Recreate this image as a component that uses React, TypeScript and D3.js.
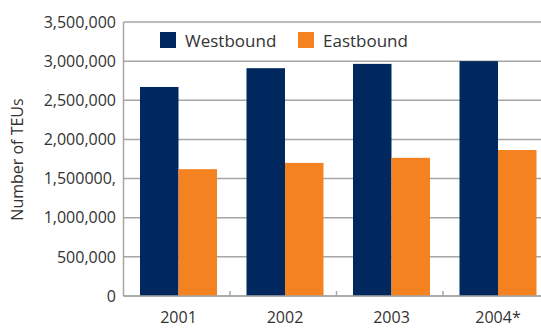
import React from "react";
import * as d3 from "d3";

const years = ["2001", "2002", "2003", "2004*"];
const westbound = [2670000, 2910000, 2965000, 3000000];
const eastbound = [1620000, 1700000, 1765000, 1865000];
const seriesNames = ["Westbound", "Eastbound"];
const seriesColors = ["#00285e", "#f58220"];
const yTicks = [0, 500000, 1000000, 1500000, 2000000, 2500000, 3000000, 3500000];
const yTickLabels = ["0", "500,000", "1,000,000", "1,500000,", "2,000,000", "2,500,000", "3,000,000", "3,500,000"];

const W = 541;
const H = 328;
const left = 123.5;
const top = 22;
const bottom = 296;
const right = 549.5;
const font = "'Open Sans', sans-serif";
const textColor = "#333";

export default function App() {
  const x = d3.scaleBand<string>().domain(years).range([left, right]).padding(0);
  const inner = d3.scaleBand<string>().domain(seriesNames).range([16.5, 93.5]).padding(0);
  const y = d3.scaleLinear().domain([0, 3500000]).range([bottom, top]);
  const values = [westbound, eastbound];

  return (
    <svg width={W} height={H} style={{ position: "absolute", left: 0, top: 0, background: "#fff" }}>
      {/* horizontal gridlines */}
      {yTicks.map((t) => (
        <line key={t} x1={left} x2={W} y1={y(t)} y2={y(t)} stroke="#a6a6a6" strokeWidth={1.5} />
      ))}
      {/* y tick labels */}
      {yTicks.map((t, i) => (
        <text key={"l" + t} x={116} y={y(t)} dy="0.36em" textAnchor="end" fontFamily={font} fontSize={16} fill={textColor}>
          {yTickLabels[i]}
        </text>
      ))}
      {/* bars */}
      {years.map((yr, i) =>
        seriesNames.map((s, j) => (
          <rect
            key={yr + s}
            x={(x(yr) as number) + (inner(s) as number)}
            y={y(values[j][i])}
            width={inner.bandwidth()}
            height={bottom - y(values[j][i])}
            fill={seriesColors[j]}
          />
        ))
      )}
      {/* axes */}
      <line x1={left} x2={left} y1={top} y2={bottom} stroke="#a6a6a6" strokeWidth={1.5} />
      <line x1={left} x2={W} y1={bottom} y2={bottom} stroke="#a6a6a6" strokeWidth={1.5} />
      {years.slice(1).map((yr) => (
        <line key={"t" + yr} x1={x(yr)} x2={x(yr)} y1={bottom} y2={bottom - 5} stroke="#a6a6a6" strokeWidth={1.5} />
      ))}
      {/* x labels */}
      {years.map((yr) => (
        <text
          key={"x" + yr}
          x={(x(yr) as number) + (inner.range()[0] + inner.range()[1]) / 2}
          y={323}
          textAnchor="middle"
          fontFamily={font}
          fontSize={16}
          fill={textColor}
        >
          {yr}
        </text>
      ))}
      {/* y title */}
      <text
        transform={`translate(23,159.5) rotate(-90)`}
        textAnchor="middle"
        fontFamily={font}
        fontSize={16}
        fill={textColor}
      >
        Number of TEUs
      </text>
      {/* legend */}
      {seriesNames.map((s, j) => (
        <g key={"lg" + s} transform={`translate(${[160, 298][j]},32)`}>
          <rect width={16} height={16} fill={seriesColors[j]} />
          <text x={25} y={15} fontFamily={font} fontSize={17} fill={textColor}>
            {s}
          </text>
        </g>
      ))}
    </svg>
  );
}
